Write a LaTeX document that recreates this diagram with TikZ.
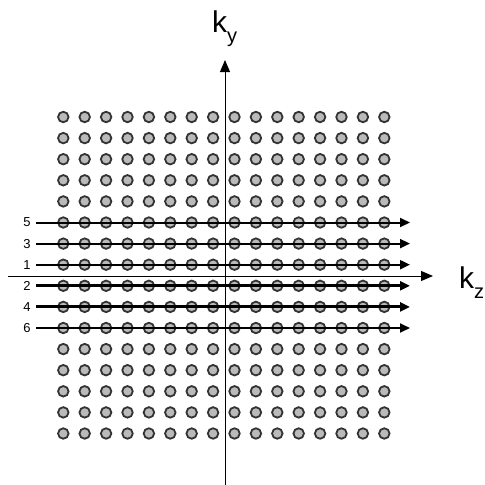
\documentclass[tikz,border=0pt]{standalone}
\usepackage{fontspec}
\setmainfont{Liberation Sans}
\usetikzlibrary{arrows.meta}

\newcommand{\ksub}[1]{\raisebox{-10pt}{\fontsize{20}{20}\selectfont #1}}

\begin{document}
\begin{tikzpicture}[
  x=1pt, y=-1pt,
  dot/.style={circle, draw=black!80, fill=black!27, line width=1.8pt, minimum size=10.5pt, inner sep=0pt},
  rowline/.style={line width=2pt, -{Triangle[length=10pt, width=9pt]}},
  rowbold/.style={rowline, line width=3pt},
  axis/.style={line width=0.9pt, -{Triangle[length=12pt, width=10pt]}},
  num/.style={font=\fontsize{13}{13}\selectfont, inner sep=1pt},
  klab/.style={font=\fontsize{30}{30}\selectfont, inner sep=0pt, anchor=base west}
]
\useasboundingbox (0,0) rectangle (485,485);

%--------------------------------------------------------------
% Griglia dei campioni (16 x 16)
%--------------------------------------------------------------
\foreach \i in {0,...,15}{
  \foreach \j in {0,...,15}{
    \node[dot] (d-\i-\j) at ({63.3+21.4*\i},{117+21.1*\j}) {};
  }
}

%--------------------------------------------------------------
% Assi k_z e k_y
%--------------------------------------------------------------
\coordinate (kzs) at (8,276);
\coordinate (kze) at (433,276);
\coordinate (kys) at (225,485);
\coordinate (kye) at (225,60);
\draw[axis] (kzs) -- (kze);
\draw[axis] (kys) -- (kye);

\node[klab] (kylab) at (212,32) {k\ksub{y}};
\node[klab] (kzlab) at (459,288) {k\ksub{z}};

%--------------------------------------------------------------
% Ordine di acquisizione delle righe
%--------------------------------------------------------------
\foreach \j/\n/\s in {5/5/rowline, 6/3/rowline, 7/1/rowline, 8/2/rowbold, 9/4/rowbold, 10/6/rowline}{
  \node[num] (n\n) at (27,{117+21.1*\j}) {\n};
  \coordinate (s\n) at (36,{117+21.1*\j});
  \coordinate (e\n) at (410,{117+21.1*\j});
  \draw[\s] (s\n) -- (e\n);
}

\end{tikzpicture}
\end{document}
